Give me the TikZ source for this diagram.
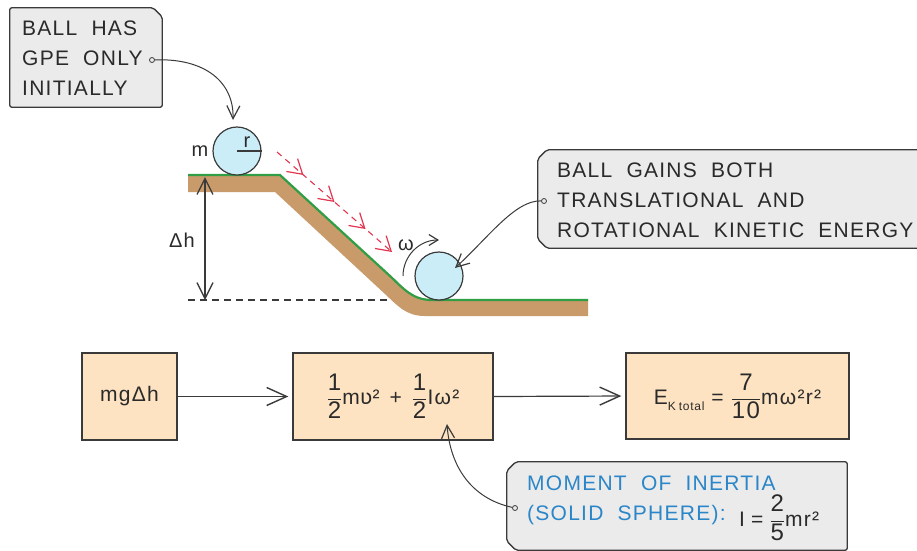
\documentclass[tikz,border=0pt]{standalone}
\usepackage{fontspec}
\setmainfont{Liberation Sans}[LetterSpace=6,WordSpace=2]
\newfontfamily\hookfont{DejaVu Sans}
\usetikzlibrary{arrows.meta,decorations.markings}

\definecolor{inkgrey}{HTML}{3A3A3A}
\definecolor{textdark}{HTML}{2A2A2A}
\definecolor{calloutfill}{HTML}{EBEBEB}
\definecolor{boxfill}{HTML}{FDE3C1}
\definecolor{groundbrown}{HTML}{C99A6A}
\definecolor{grassgreen}{HTML}{2F9E44}
\definecolor{ballfill}{HTML}{CBEDF8}
\definecolor{motionred}{HTML}{E2354F}
\definecolor{noteblue}{HTML}{2A86C8}

% a fraction set in the text font, with slightly larger digits
\newcommand\hfrac[2]{$\displaystyle\frac{\mbox{\fontsize{24}{28}\selectfont#1}}{\mbox{\fontsize{24}{28}\selectfont#2}}$}
\newcommand\gap{\hspace{10pt}}

\tikzset{
  chevron/.tip={Straight Barb[length=14pt,width=17pt,line width=1.2pt]},
  notetext/.style={anchor=base west, inner sep=0pt, text=textdark,
    font=\fontsize{21}{25}\selectfont},
  label/.style={inner sep=0pt, text=textdark, font=\fontsize{20}{24}\selectfont},
  frame/.style={rectangle, inner sep=0pt},
  calloutline/.style={draw=inkgrey, line width=1.3pt, fill=calloutfill,
    rounded corners=2pt},
  energybox/.style={draw=inkgrey, line width=1.3pt, fill=boxfill,
    inner sep=0pt, text=textdark, font=\fontsize{21}{25}\selectfont},
  pin/.style={circle, draw=inkgrey, fill=calloutfill, line width=0.8pt,
    minimum size=5pt, inner sep=0pt},
  ball/.style={circle, draw=inkgrey, line width=1.2pt, fill=ballfill,
    minimum size=48pt, inner sep=0pt},
  flowarrow/.style={draw=inkgrey, line width=1.2pt, shorten >=4pt,
    -{Straight Barb[length=20pt,width=18pt,line width=1.4pt]}},
  pointer/.style={draw=inkgrey, line width=1pt,
    -{Straight Barb[length=13pt,width=13pt,line width=1.2pt]}},
  dimarrow/.style={draw=inkgrey, line width=1.1pt,
    {Straight Barb[length=16pt,width=16pt,line width=1.3pt]}-{Straight Barb[length=16pt,width=16pt,line width=1.3pt]}},
  spinarrow/.style={draw=inkgrey, line width=1pt,
    -{Straight Barb[length=9pt,width=11pt,line width=1.2pt]}},
  rollpath/.style={draw=motionred, line width=1.1pt, dash pattern=on 6pt off 5pt,
    postaction={decorate},
    decoration={markings,
      mark=at position 0.23 with {\arrow{chevron}},
      mark=at position 0.5 with {\arrow{chevron}},
      mark=at position 0.77 with {\arrow{chevron}},
      mark=at position 1 with {\arrow{chevron}}}},
}

\begin{document}
\begin{tikzpicture}[x=1pt,y=-1pt]
\useasboundingbox (0,0) rectangle (917,550);

% reference level for the height drop
\draw[inkgrey, line width=1.1pt, dash pattern=on 7pt off 5pt] (188,300) -- (430,300);

% the slope: soil band and grass line
\fill[groundbrown] (188,175) -- (280,175) -- (390,276)
  .. controls (403,288) and (412,300) .. (432,300) -- (588,300) -- (588,316)
  -- (425,316) .. controls (406,316) and (398,306) .. (385,294)
  -- (275,192) -- (188,192) -- cycle;
\draw[grassgreen, line width=2.2pt] (188,175) -- (280,175) -- (390,276)
  .. controls (403,288) and (412,300) .. (432,300) -- (588,300);

% balls
\node[ball] (ballA) at (237,151) {};
\draw[inkgrey, line width=1.2pt] (ballA.center) -- (ballA.east);
\node[label, anchor=base] (radiusLabel) at (247,147) {r};
\node[label] (massLabel) at (200,151) {m};

\node[ball] (ballB) at (439,276) {};
\draw[spinarrow] ([shift={(180:36pt)}]ballB.center) arc[start angle=180, end angle=90, radius=36pt];
\node[label] (omegaLabel) at (406,245) {ω};

% height drop
\coordinate (dhTop) at (205,177);
\coordinate (dhBottom) at (205,300);
\draw[dimarrow] (dhTop) -- (dhBottom);
\node[label] (dhLabel) at (182,240) {Δh};

% rolling path
\coordinate (rollStart) at (277,152);
\coordinate (rollEnd) at (392,252);
\draw[rollpath] (rollStart) -- (rollEnd);

% callout: potential energy at the top
\node[frame, minimum width=152pt, minimum height=99pt] (gpeNote) at (86,57.5) {};
\draw[calloutline] (gpeNote.north west) -- ([xshift=-9pt]gpeNote.north east)
  -- ([yshift=-9pt]gpeNote.north east) -- (gpeNote.south east)
  -- (gpeNote.south west) -- cycle;
\node[notetext] (gpeLineA) at (22,35) {BALL HAS};
\node[notetext] (gpeLineB) at (22,65) {GPE ONLY};
\node[notetext] (gpeLineC) at (22,95) {INITIALLY};
\node[pin] (gpePin) at (152,60) {};
\coordinate (gpeHit) at (233,120);
\draw[pointer] (gpePin) .. controls (205,58) and (234,82) .. (gpeHit);

% callout: kinetic energy at the bottom
\node[frame, minimum width=402pt, minimum height=98pt] (keNote) at (739,199) {};
\draw[calloutline] ([xshift=9pt]keNote.north west) -- (keNote.north east)
  -- (keNote.south east) -- ([xshift=9pt]keNote.south west)
  -- ([yshift=9pt]keNote.south west) -- ([yshift=-9pt]keNote.north west) -- cycle;
\node[notetext] (keLineA) at (557,177) {BALL GAINS BOTH};
\node[notetext] (keLineB) at (557,207) {TRANSLATIONAL AND};
\node[notetext] (keLineC) at (557,237) {ROTATIONAL KINETIC ENERGY};
\node[pin] (kePin) at (544,201) {};
\coordinate (keHit) at (455,268);
\draw[pointer] (kePin) .. controls (515,200) and (488,238) .. (keHit);

% energy chain
\node[energybox, minimum width=95pt, minimum height=87pt] (gpeBox) at (129.5,396.5) {mgΔh};
\node[energybox, minimum width=200pt, minimum height=87pt] (keBox) at (393,396.5)
  {\hfrac{1}{2}m{\hookfont ʋ}²\gap+\gap\hfrac{1}{2}Iω²};
\node[energybox, minimum width=223pt, minimum height=86pt] (totalBox) at (737.5,396)
  {E\raisebox{-6pt}{\fontsize{12}{12}\selectfont K\hspace{3pt}total}\hspace{7pt}=\hspace{7pt}\hfrac{7}{10}mω²r²};
\draw[flowarrow] (gpeBox.east) -- (keBox.west);
\draw[flowarrow] (keBox.east) -- (totalBox.west);

% callout: moment of inertia
\node[frame, minimum width=340pt, minimum height=88pt] (inertiaNote) at (677,506) {};
\draw[calloutline] ([xshift=9pt]inertiaNote.north west) -- (inertiaNote.north east)
  -- (inertiaNote.south east) -- ([xshift=9pt]inertiaNote.south west)
  -- ([yshift=9pt]inertiaNote.south west) -- ([yshift=-9pt]inertiaNote.north west) -- cycle;
\node[notetext, text=noteblue] (inertiaLineA) at (527,490) {MOMENT OF INERTIA};
\node[notetext, text=noteblue] (inertiaLineB) at (527,520) {(SOLID SPHERE):};
\node[notetext] (inertiaFormula) at (739,526) {I\hspace{6pt}=\hspace{6pt}\hfrac{2}{5}mr²};
\node[pin] (inertiaPin) at (515,508) {};
\coordinate (inertiaHit) at (447,424);
\draw[pointer] (inertiaPin) .. controls (470,498) and (450,465) .. (inertiaHit);
\end{tikzpicture}
\end{document}
